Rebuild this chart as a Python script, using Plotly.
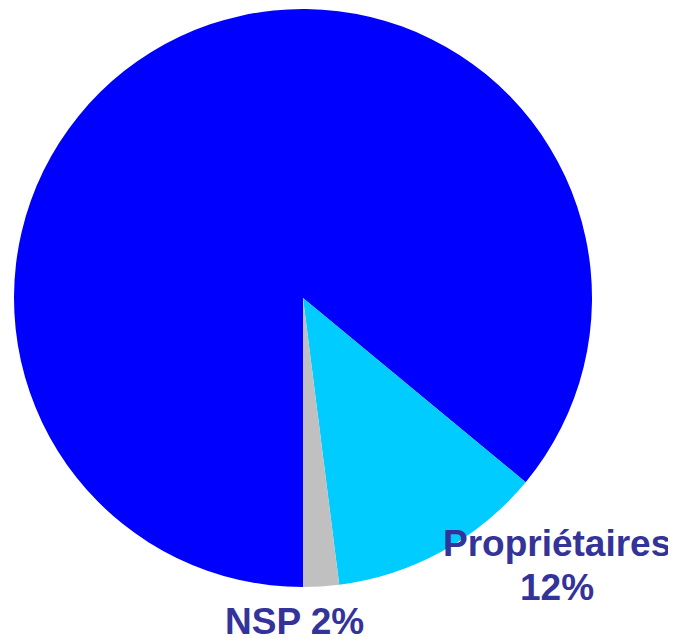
import plotly.graph_objects as go

labels = ["Locataires", "Propriétaires", "NSP"]
values = [86, 12, 2]
colors = ["#0000FF", "#00CCFF", "#C0C0C0"]
label_names = ["", "Propriétaires", "NSP 2%"]
label_pcts = ["", "12%", ""]

W, H = 676, 639
# the page body adds an 8px offset; positions are given in figure pixels
cx, cy, r = 295, 290, 289

fig = go.Figure(go.Pie(
    labels=labels,
    values=values,
    sort=False,
    direction="clockwise",
    rotation=180,
    marker=dict(colors=colors, line=dict(width=0)),
    textinfo="none",
    hoverinfo="label+percent",
    showlegend=False,
    domain=dict(x=[(cx - r) / W, (cx + r) / W], y=[1 - (cy + r) / H, 1 - (cy - r) / H]),
))

name_pos = [None, (549, 535), (286, 613)]
pct_pos = [None, (549, 579), None]
font = dict(family="Liberation Sans, Arial, sans-serif", size=37, color="#333399")


def add_label(txt, pos):
    fig.add_annotation(
        text="<b>" + txt + "</b>", x=pos[0] / W, y=1 - pos[1] / H,
        xref="paper", yref="paper", xanchor="center", yanchor="middle",
        showarrow=False, font=font,
    )


for nm, pc, npos, ppos in zip(label_names, label_pcts, name_pos, pct_pos):
    if npos is not None and nm:
        add_label(nm, npos)
    if ppos is not None and pc:
        add_label(pc, ppos)

fig.update_layout(
    width=W, height=H,
    margin=dict(l=0, r=0, t=0, b=0),
    paper_bgcolor="white", plot_bgcolor="white",
)

fig.write_html("out.html")
